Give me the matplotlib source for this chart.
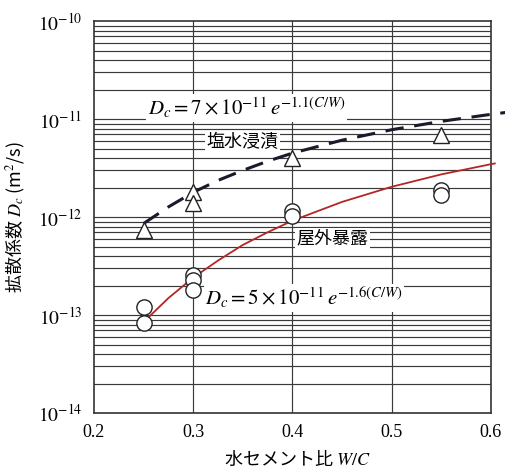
import numpy as np
import matplotlib.pyplot as plt

# measured points: salt water immersion (triangles), outdoor exposure (circles)
salt_wc = [0.25, 0.30, 0.30, 0.40, 0.55]
salt_dc = [7.4e-13, 1.80e-12, 1.40e-12, 4.0e-12, 6.9e-12]

outdoor_wc = [0.25, 0.25, 0.30, 0.30, 0.30, 0.40, 0.40, 0.55, 0.55]
outdoor_dc = [1.22e-13, 8.3e-14, 2.57e-13, 2.28e-13, 1.80e-13,
              1.15e-12, 1.02e-12, 1.89e-12, 1.67e-12]

# fitted curves, values
salt_fit_wc = [0.25, 0.275, 0.30, 0.325, 0.35, 0.375, 0.40, 0.45, 0.50, 0.55, 0.60, 0.615]
salt_fit_dc = [8.6e-13, 1.27e-12, 1.79e-12, 2.37e-12, 3.0e-12, 3.72e-12,
               4.5e-12, 6.1e-12, 7.8e-12, 9.5e-12, 1.12e-11, 1.17e-11]

outdoor_fit_wc = [0.256, 0.275, 0.30, 0.325, 0.35, 0.375, 0.40, 0.45, 0.50, 0.55, 0.60, 0.604]
outdoor_fit_dc = [9.7e-14, 1.49e-13, 2.41e-13, 3.6e-13, 5.2e-13, 7.0e-13,
                  9.2e-13, 1.43e-12, 2.04e-12, 2.73e-12, 3.47e-12, 3.53e-12]

xticks = [0.2, 0.3, 0.4, 0.5, 0.6]
xtick_labels = ['0.2', '0.3', '0.4', '0.5', '0.6']

plt.rcParams['mathtext.fontset'] = 'stix'
jp = ['Noto Sans CJK JP', 'DejaVu Sans']
serif = 'Liberation Serif'

fig = plt.figure(figsize=(5.05, 4.71), dpi=100)
ax = fig.add_axes([0.186, 0.123, 0.786, 0.832])
ax.set_yscale('log')
ax.set_xlim(0.2, 0.6)
ax.set_ylim(1e-14, 1e-10)

# grid: every log step horizontally, 0.1 steps vertically
for dec in range(-14, -10):
    for m in range(1, 10):
        ax.axhline(m * 10.0 ** dec, color='#3a3a3a', lw=0.85, zorder=1)
for xv in [0.3, 0.4, 0.5]:
    ax.axvline(xv, color='#3a3a3a', lw=0.85, zorder=1)

ax.plot(salt_fit_wc, salt_fit_dc, color='#1a1a2a', lw=2.2,
        dashes=(6, 3.5), clip_on=False, zorder=3)
ax.plot(outdoor_fit_wc, outdoor_fit_dc, color='#b52525', lw=1.3,
        clip_on=False, zorder=3)

ax.plot(salt_wc, salt_dc, '^', ms=12, mfc='white', mec='#222222', mew=1.0,
        ls='none', zorder=4)
ax.plot(outdoor_wc, outdoor_dc, 'o', ms=11, mfc='white', mec='#222222', mew=1.0,
        ls='none', zorder=4)

box = dict(facecolor='white', edgecolor='none', pad=1.0)
ax.text(0.254, 1.3e-11, r'$D_c=7\times10^{-11}\,e^{-1.1(C/W)}$', fontsize=15,
        va='center', ha='left', bbox=box, zorder=5)
ax.text(0.313, 5.8e-12, '塩水浸漬', family=jp, fontsize=13,
        va='center', ha='left', bbox=box, zorder=5)
ax.text(0.404, 6.0e-13, '屋外暴露', family=jp, fontsize=13,
        va='center', ha='left', bbox=box, zorder=5)
ax.text(0.312, 1.5e-13, r'$D_c=5\times10^{-11}\,e^{-1.6(C/W)}$', fontsize=15,
        va='center', ha='left', bbox=box, zorder=5)

ax.set_xticks(xticks)
ax.set_xticklabels(xtick_labels, family=serif, fontsize=13)
ax.set_yticks([1e-14, 1e-13, 1e-12, 1e-11, 1e-10])
ax.set_yticklabels([r'$10^{-14}$', r'$10^{-13}$', r'$10^{-12}$',
                    r'$10^{-11}$', r'$10^{-10}$'], fontsize=14)
ax.minorticks_off()
ax.tick_params(length=0, pad=8)
for s in ax.spines.values():
    s.set_color('#333333')
    s.set_linewidth(1.2)

fig.text(0.588, 0.005, '水セメント比 $W/C$', family=jp, fontsize=13,
         ha='center', va='bottom')
fig.text(0.03, 0.54, '拡散係数 $D_c$ (m$^2$/s)', family=jp, fontsize=13,
         rotation=90, ha='center', va='center')

fig.savefig('out.png', dpi=100)
